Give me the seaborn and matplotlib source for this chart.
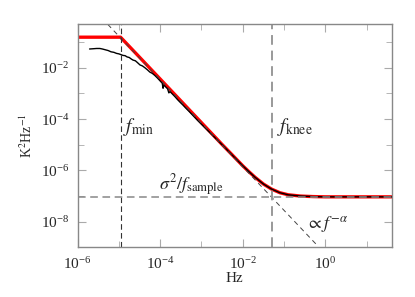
import numpy as np
import pandas as pd
import matplotlib
matplotlib.use('Agg')
import matplotlib.pyplot as plt
from matplotlib.ticker import FixedLocator, NullFormatter
import seaborn as sns

data_logf = [-5.71, -5.62, -5.54, -5.46, -5.40, -5.33, -5.26, -5.19, -5.12, -5.06,
             -5.00, -4.95, -4.90, -4.85, -4.80, -4.75, -4.70, -4.66, -4.60, -4.55,
             -4.49, -4.43, -4.37, -4.31, -4.25, -4.19, -4.13, -4.06, -4.02, -3.98,
             -3.95, -3.93, -3.91, -3.87, -3.82, -3.79, -3.76, -3.70, -3.64, -3.58,
             -3.52, -3.45, -3.38, -3.30, -3.20, -3.10, -3.00, -2.85, -2.70, -2.50,
             -2.30, -2.00, -1.85, -1.70, -1.50, -1.30, -1.10, -0.90, -0.60, -0.30,
             0.00, 0.50, 1.00, 1.61]
data_logp = [-1.27, -1.26, -1.25, -1.25, -1.27, -1.30, -1.33, -1.38, -1.40, -1.44,
             -1.46, -1.49, -1.52, -1.53, -1.58, -1.60, -1.66, -1.70, -1.73, -1.80,
             -1.89, -1.93, -2.00, -2.08, -2.17, -2.22, -2.30, -2.41, -2.48, -2.55,
             -2.60, -2.80, -2.67, -2.74, -2.82, -2.98, -2.93, -3.03, -3.13, -3.24,
             -3.34, -3.45, -3.57, -3.70, -3.87, -4.04, -4.20, -4.44, -4.68, -5.00,
             -5.33, -5.82, -6.05, -6.27, -6.53, -6.73, -6.87, -6.95, -7.00, -7.02,
             -7.03, -7.03, -7.03, -7.03]

# model spectrum (red)
model_logf = [-6.00, -4.96, -4.50, -4.00, -3.50, -3.00, -2.50, -2.30, -2.00, -1.85,
              -1.70, -1.50, -1.30, -1.10, -0.90, -0.60, -0.30, 0.00, 0.50, 1.61]
model_logp = [-0.81, -0.81, -1.59, -2.44, -3.29, -4.14, -4.99, -5.32, -5.82, -6.05,
              -6.27, -6.53, -6.73, -6.87, -6.95, -7.00, -7.02, -7.03, -7.03, -7.03]

# asymptote  ∝ f^-alpha
slope_logf = [-5.27, -0.19]
slope_logp = [-0.31, -8.93]

f_min = 1.12e-5
f_knee = 0.05
white_level = 9.3e-8

x_major = [1e-6, 1e-4, 1e-2, 1e0]
x_minor = [1e-5, 1e-3, 1e-1, 1e1]
y_major = [1e-8, 1e-6, 1e-4, 1e-2]
y_minor = [1e-9, 1e-7, 1e-5, 1e-3, 1e-1]

df_data = pd.DataFrame({'f': 10 ** np.array(data_logf), 'p': 10 ** np.array(data_logp)})
df_model = pd.DataFrame({'f': 10 ** np.array(model_logf), 'p': 10 ** np.array(model_logp)})
df_slope = pd.DataFrame({'f': 10 ** np.array(slope_logf), 'p': 10 ** np.array(slope_logp)})

sns.set_style('ticks')
plt.rcParams['font.family'] = ['Liberation Serif', 'DejaVu Serif']
plt.rcParams['mathtext.fontset'] = 'stix'

fig = plt.figure(figsize=(4.15, 2.97), dpi=100)
ax = fig.add_axes([0.187, 0.167, 0.757, 0.751])

ax.set_xscale('log')
ax.set_yscale('log')

sns.lineplot(data=df_model, x='f', y='p', ax=ax, color='red', lw=2.4,
             estimator=None, sort=False)
sns.lineplot(data=df_data, x='f', y='p', ax=ax, color='black', lw=1.0,
             estimator=None, sort=False)
sns.lineplot(data=df_slope, x='f', y='p', ax=ax, color='#444444', lw=0.7,
             estimator=None, sort=False, dashes=False, linestyle=(0, (5, 4)))

ax.axvline(f_min, color='#333333', lw=0.8, ls=(0, (5, 3)))
ax.axvline(f_knee, color='#999999', lw=1.4, ls=(0, (5, 3)))
ax.axhline(white_level, color='#888888', lw=1.1, ls=(0, (5, 3)))

ax.set_xlim(1e-6, 10 ** 1.61)
ax.set_ylim(1e-9, 10 ** -0.31)

ax.xaxis.set_major_locator(FixedLocator(x_major))
ax.xaxis.set_minor_locator(FixedLocator(x_minor))
ax.xaxis.set_minor_formatter(NullFormatter())
ax.yaxis.set_major_locator(FixedLocator(y_major))
ax.yaxis.set_minor_locator(FixedLocator(y_minor))
ax.yaxis.set_minor_formatter(NullFormatter())

for s in ax.spines.values():
    s.set_color('#888888')
    s.set_linewidth(1.0)
ax.tick_params(which='both', direction='in', top=True, right=True,
               color='#aaaaaa', labelsize=11, pad=6)
ax.tick_params(which='major', length=6)
ax.tick_params(which='minor', length=4)

ax.set_xlabel('Hz', fontsize=11, labelpad=0)
ax.set_ylabel(r'K$^2$Hz$^{-1}$', fontsize=10, labelpad=4)

ax.text(10 ** -4.9, 10 ** -4.31, r'$f_{\rm min}$', fontsize=14, va='center', ha='left')
ax.text(10 ** -1.18, 10 ** -4.31, r'$f_{\rm knee}$', fontsize=14, va='center', ha='left')
ax.text(10 ** -4.02, 10 ** -6.56, r'$\sigma^2/f_{\rm sample}$', fontsize=13, va='center', ha='left')
ax.text(10 ** -0.47, 10 ** -8.12, r'$\propto f^{-\alpha}$', fontsize=13, va='center', ha='left')

fig.savefig('out.png', dpi=100)
plt.close(fig)
